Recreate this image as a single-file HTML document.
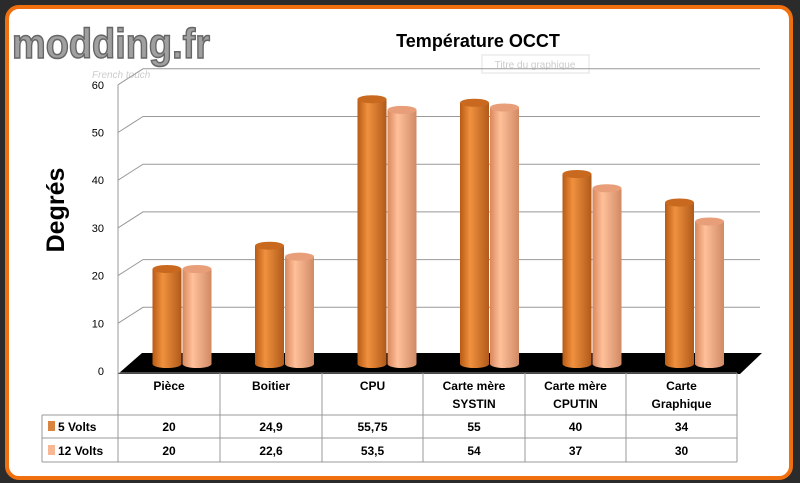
<!DOCTYPE html>
<html><head><meta charset="utf-8">
<style>
body{margin:0;width:800px;height:483px;background:#2b2b2b;overflow:hidden;font-family:"Liberation Sans",sans-serif}
#frame{position:absolute;left:5px;top:5px;width:780px;height:467px;border:4px solid #f07010;border-radius:14px;background:#fff}
</style></head><body>
<div id="frame"></div>
<svg id="chart" width="800" height="483" style="position:absolute;left:0;top:0">
<defs>
<linearGradient id="g5" x1="0" x2="1"><stop offset="0" stop-color="#b85a14"/><stop offset="0.35" stop-color="#f0913e"/><stop offset="1" stop-color="#b05a1a"/></linearGradient>
<linearGradient id="g12" x1="0" x2="1"><stop offset="0" stop-color="#d9875c"/><stop offset="0.35" stop-color="#ffc09a"/><stop offset="1" stop-color="#d08a64"/></linearGradient>
</defs>
<text x="12" y="58" font-size="42" font-weight="bold" fill="#a0a0a0" stroke="#666" stroke-width="1.5" textLength="198" lengthAdjust="spacingAndGlyphs">modding.fr</text>
<text x="92" y="78" font-size="10" font-style="italic" fill="#ccc">French touch</text>
<text x="478" y="47" font-size="18" font-weight="bold" text-anchor="middle" fill="#000">Température OCCT</text>
<rect x="482" y="55" width="107" height="18" fill="#fff" stroke="#e0e0e0"/>
<text x="535" y="68" font-size="10" text-anchor="middle" fill="#ccc">Titre du graphique</text>
<text transform="translate(64,210) rotate(-90)" font-size="25" font-weight="bold" text-anchor="middle" fill="#000">Degrés</text>
<g id="grid"></g><g id="bars"></g><g id="table"></g>
</svg>
<script>
const categories=["Pièce","Boitier","CPU","Carte mère|SYSTIN","Carte mère|CPUTIN","Carte|Graphique"];
const v5=[20,24.9,55.75,55,40,34];
const v12=[20,22.6,53.5,54,37,30];
const l5=["20","24,9","55,75","55","40","34"];
const l12=["20","22,6","53,5","54","37","30"];
const ticks=[0,10,20,30,40,50,60];
const NS="http://www.w3.org/2000/svg";
function mk(t,a,p){const e=document.createElementNS(NS,t);for(const k in a)e.setAttribute(k,a[k]);p.appendChild(e);return e;}
const yF=v=>371-v*4.77;
const yB=v=>yF(v)-16;
const grid=document.getElementById('grid');
ticks.forEach(t=>{
  const l=mk('text',{x:104,y:yF(t)+4,'font-size':11,'text-anchor':'end',fill:'#000'},grid);l.textContent=t;
  
  
  if(t>0){const p=mk('path',{d:`M118 ${yF(t)} L143 ${yB(t)} L760 ${yB(t)}`,fill:'none',stroke:'#999','stroke-width':1},grid);
  
  }
});
const ax=mk('line',{x1:118,y1:yF(60),x2:118,y2:373,stroke:'#999'},grid);


const fl=mk('path',{d:'M118 374 L740 374 L762 353 L142 353 Z',fill:'#000'},grid);


const bars=document.getElementById('bars');
const sc=4.75,base=364,w=29,ry=4;
function cyl(cx,v,grad,top,name){
  const g=mk('g',{},bars);
  
  
  const t=base-v*sc;
  mk('ellipse',{cx,cy:base,rx:w/2,ry},g).setAttribute('fill',`url(#${grad})`);
  mk('rect',{x:cx-w/2,y:t,width:w,height:base-t,fill:`url(#${grad})`},g);
  mk('ellipse',{cx,cy:t,rx:w/2,ry,fill:top},g);
}
categories.forEach((c,i)=>{
  const cx=167+i*102.5;
  cyl(cx,v5[i],'g5','#c8691f','bar-5v');
  cyl(cx+30,v12[i],'g12','#e89e78','bar-12v');
});
const tb=document.getElementById('table');
const cols=[118,220,322,423,525,626,737];
function ln(x1,y1,x2,y2){const l=mk('line',{x1,y1,x2,y2,stroke:'#999'},tb);}
cols.forEach(x=>ln(x,373,x,462));
ln(42,415,42,462);
ln(118,373,737,373);ln(42,415,737,415);ln(42,438,737,438);ln(42,462,737,462);
function txt(x,y,s,name){const e=mk('text',{x,y,'font-size':12,'font-weight':'bold','text-anchor':'middle',fill:'#000'},tb);e.textContent=s;}
categories.forEach((c,i)=>{
  const cx=(cols[i]+cols[i+1])/2;
  const parts=c.split('|');
  if(parts.length==1)txt(cx,390,parts[0],'category-label');
  else{txt(cx,390,parts[0],'category-label');txt(cx,408,parts[1],'category-label');}
  txt(cx,431,l5[i],'value-5v');
  txt(cx,455,l12[i],'value-12v');
});
const k1=mk('rect',{x:48,y:421,width:7,height:10,fill:'#d9853f'},tb);
const k2=mk('rect',{x:48,y:445,width:7,height:10,fill:'#f8b894'},tb);
const t1=mk('text',{x:58,y:431,'font-size':12,'font-weight':'bold'},tb);t1.textContent='5 Volts';
const t2=mk('text',{x:58,y:455,'font-size':12,'font-weight':'bold'},tb);t2.textContent='12 Volts';
</script>
</body></html>
